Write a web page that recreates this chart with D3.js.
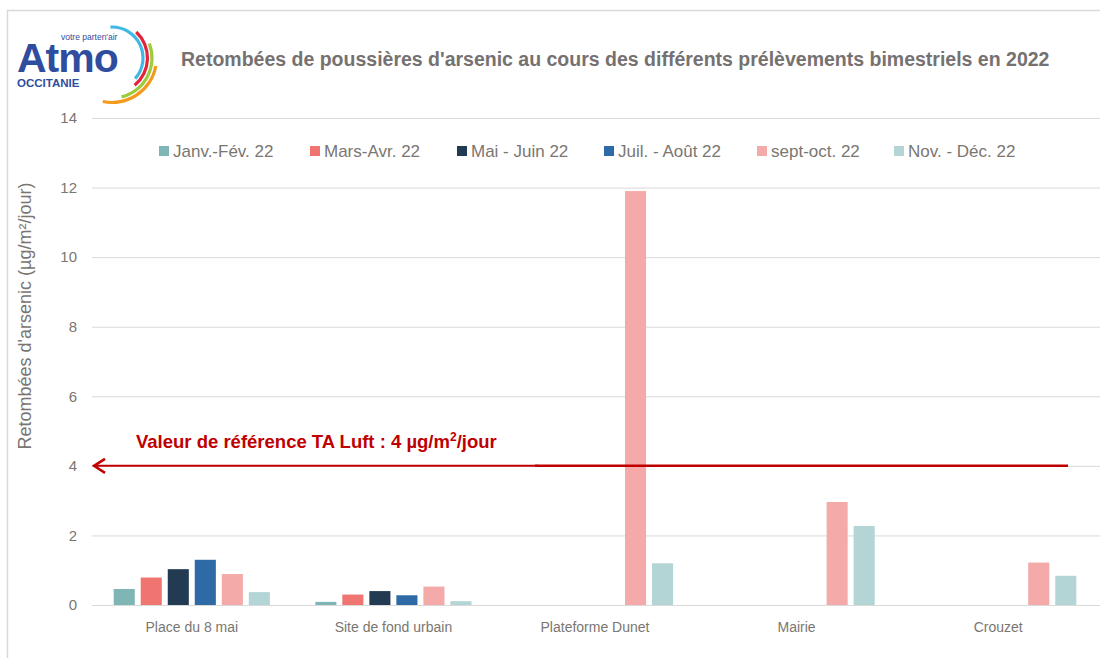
<!DOCTYPE html>
<html><head><meta charset="utf-8">
<script src="https://cdn.jsdelivr.net/npm/d3@7"></script>
<style>
html,body{margin:0;padding:0;background:#fff;}
svg{display:block;font-family:"Liberation Sans",Arial,sans-serif;}
</style></head>
<body>
<svg id="chart" width="1100" height="658"></svg>
<script>
const categories = ["Place du 8 mai","Site de fond urbain","Plateforme Dunet","Mairie","Crouzet"];
const seriesNames = ["Janv.-Fév. 22","Mars-Avr. 22","Mai - Juin 22","Juil. - Août 22","sept-oct. 22","Nov. - Déc. 22"];
const seriesColors = ["#7fb5b5","#f07470","#223a52","#2d6aa6","#f4aaa9","#b4d5d5"];
const janvFev = [0.46, 0.09, null, null, null];
const marsAvr = [0.79, 0.30, null, null, null];
const maiJuin = [1.03, 0.40, null, null, null];
const juilAout = [1.30, 0.28, null, null, null];
const septOct = [0.89, 0.53, 11.9, 2.96, 1.22];
const novDec = [0.37, 0.11, 1.20, 2.27, 0.84];
const yTicks = [0,2,4,6,8,10,12,14];
const referenceValue = 4;

const seriesValues = [janvFev, marsAvr, maiJuin, juilAout, septOct, novDec];

const svg = d3.select("#chart");

// frame
svg.append("path").attr("d","M7.5,658 V10.5 H1100").attr("fill","none").attr("stroke","#d9d9d9").attr("stroke-width",1.5);

const x0 = d3.scaleBand().domain(categories).range([91,1099]).padding(0);
const x1 = d3.scaleBand().domain(seriesNames).range([0,x0.bandwidth()]).paddingInner(0.22).paddingOuter(0.84);
const y = d3.scaleLinear().domain([0,14]).range([605,118]);

// gridlines
svg.append("g").selectAll("line").data(yTicks).join("line")
  .attr("x1",92).attr("x2",1100)
  .attr("y1",d=>y(d)+0.5).attr("y2",d=>y(d)+0.5)
  .attr("stroke","#d9d9d9").attr("stroke-width",1);

// y axis labels
const yAxis = d3.axisLeft(y).tickValues(yTicks).tickSize(0).tickPadding(0).tickFormat(d3.format("d"));
const ya = svg.append("g").attr("transform","translate(77,0)").call(yAxis);
ya.select(".domain").remove();
ya.selectAll("text").attr("font-size",15).attr("fill","#7a7671").attr("font-family","'Liberation Sans',Arial,sans-serif");

// x axis labels
const xAxis = d3.axisBottom(x0).tickSize(0).tickPadding(0);
const xa = svg.append("g").attr("transform","translate(0,622)").call(xAxis);
xa.select(".domain").remove();
xa.selectAll("text").attr("font-size",14).attr("fill","#7a7671").attr("font-family","'Liberation Sans',Arial,sans-serif");

// bars
const groups = svg.append("g").selectAll("g").data(categories).join("g")
  .attr("transform",d=>`translate(${x0(d)},0)`);
groups.selectAll("rect").data((c,ci)=>seriesNames.map((s,si)=>({s,si,v:seriesValues[si][ci]})).filter(d=>d.v!=null))
  .join("rect")
  .attr("x",d=>x1(d.s)).attr("width",x1.bandwidth())
  .attr("y",d=>y(d.v)).attr("height",d=>y(0)-y(d.v))
  .attr("fill",d=>seriesColors[d.si]);

// legend
const legendX = [159,310,457,604,757,894];
const lg = svg.append("g").selectAll("g").data(seriesNames).join("g")
  .attr("transform",(d,i)=>`translate(${legendX[i]},151)`);
lg.append("rect").attr("x",0).attr("y",-5).attr("width",10).attr("height",10).attr("fill",(d,i)=>seriesColors[i]);
lg.append("text").attr("x",14).attr("y",6).attr("font-size",17).attr("fill","#7a7671")
  .attr("font-family","'Liberation Sans Narrow','Liberation Sans',Arial,sans-serif").text(d=>d);

// title
svg.append("text").attr("x",181).attr("y",66).attr("font-size",19.5).attr("font-weight","bold")
  .attr("fill","#767171").text("Retombées de poussières d'arsenic au cours des différents prélèvements bimestriels en 2022");

// y axis title
svg.append("text").attr("transform","translate(31,316) rotate(-90)").attr("text-anchor","middle")
  .attr("font-size",18).attr("fill","#7a7671").text("Retombées  d'arsenic (µg/m²/jour)");

// reference line
const ry = y(referenceValue);
svg.append("line").attr("x1",535).attr("x2",1068).attr("y1",ry).attr("y2",ry)
  .attr("stroke","#c00000").attr("stroke-width",2.5);
svg.append("line").attr("x1",538).attr("x2",94).attr("y1",ry).attr("y2",ry)
  .attr("stroke","#c00000").attr("stroke-width",2);
svg.append("path").attr("d",`M105,${ry-7} L94,${ry} L105,${ry+7}`).attr("fill","none")
  .attr("stroke","#c00000").attr("stroke-width",2.5).attr("stroke-linejoin","miter");
const refText = svg.append("text").attr("x",136).attr("y",448).attr("font-size",18.5).attr("font-weight","bold")
  .attr("fill","#c00000");
refText.append("tspan").text("Valeur de référence TA Luft : 4 µg/m");
refText.append("tspan").attr("font-size",12).attr("dy",-7).text("2");
refText.append("tspan").attr("dy",7).text("/jour");

// logo
const logo = svg.append("g");
const arc = d3.arc();
const cx = 112, cy = 58;
const arcs = [
  {r:31, a0:-0.05, a1:2.3, c:"#3fb8e6"},
  {r:35.5, a0:0.75, a1:2.45, c:"#e5243b"},
  {r:40, a0:1.2, a1:2.9, c:"#9ccb3b"},
  {r:44.5, a0:1.75, a1:3.35, c:"#f39a1e"}
];
logo.selectAll("path").data(arcs).join("path")
  .attr("transform",`translate(${cx},${cy})`)
  .attr("d",d=>arc({innerRadius:d.r-1.6,outerRadius:d.r+1.6,startAngle:d.a0,endAngle:d.a1,cornerRadius:1.6}))
  .attr("fill",d=>d.c);
logo.append("text").attr("x",17).attr("y",72).attr("font-size",41).attr("font-weight","bold")
  .attr("fill","#2f4d9e").attr("letter-spacing",-1).text("Atmo");
logo.append("text").attr("x",61).attr("y",40).attr("font-size",8.5).attr("fill","#2f4d9e").text("votre parten'air");
logo.append("text").attr("x",17).attr("y",87).attr("font-size",11.5).attr("font-weight","bold").attr("fill","#2f4d9e").text("OCCITANIE");
</script>
</body></html>
